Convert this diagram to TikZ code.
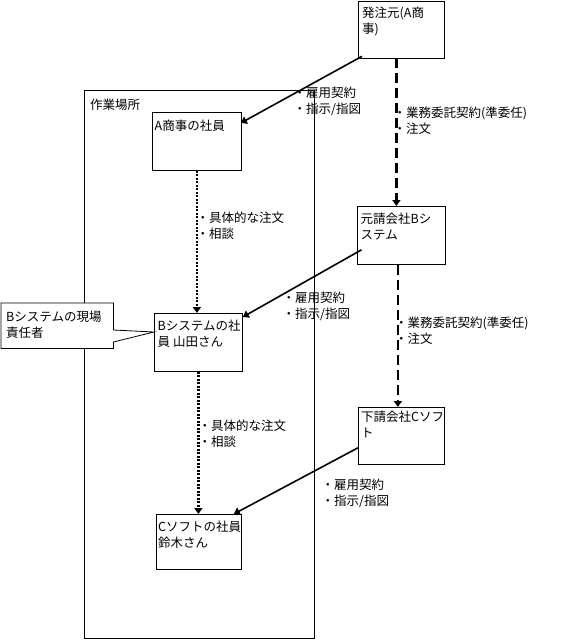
\documentclass[tikz,border=0pt]{standalone}
\usepackage{fontspec}
\setmainfont{Noto Sans CJK JP}
\usetikzlibrary{arrows.meta,calc}
\begin{document}
\begin{tikzpicture}[x=1pt,y=-1pt,
  box/.style={draw, line width=0.8pt, fill=white, anchor=north west, inner sep=0pt},
  txt/.style={anchor=north west, align=left, inner sep=0pt, font=\fontsize{12.5}{16}\selectfont},
  tipstyle/.style={-{Triangle[length=6pt,width=8pt]}},
  solidarr/.style={line width=1.6pt, tipstyle},
  dasharr/.style={line width=2.6pt, dash pattern=on 10pt off 5pt, tipstyle},
  dotarr/.style={line width=2.2pt, dash pattern=on 2pt off 1.5pt, tipstyle},
]
\useasboundingbox (0,0) rectangle (580,640);
% work site frame
\node[box, minimum width=230pt, minimum height=548pt] (site) at (84,90) {};
\node[txt] (sitet) at (90,98.5) {作業場所};
% boxes
\node[box, minimum width=86pt, minimum height=57pt] (hac) at (358,0.5) {};
\node[txt] (hact) at (362,6.5) {発注元(A商\\事)};
\node[box, minimum width=89pt, minimum height=58pt] (asha) at (152,112) {};
\node[txt] (ashat) at (154.5,119.5) {A商事の社員};
\node[box, minimum width=88pt, minimum height=58pt] (moto) at (356.5,206) {};
\node[txt] (motot) at (360.5,212.5) {元請会社Bシ\\ステム};
\node[box, minimum width=88pt, minimum height=58pt] (bsys) at (154,313) {};
\node[txt] (bsyst) at (157.5,319.5) {Bシステムの社\\員 山田さん};
\node[box, minimum width=86pt, minimum height=57pt] (shita) at (358,407) {};
\node[txt] (shitat) at (361,410.5) {下請会社Cソフ\\ト};
\node[box, minimum width=85pt, minimum height=55pt] (csoft) at (156,514) {};
\node[txt] (csoftt) at (158,520.5) {Cソフトの社員\\鈴木さん};
% callout
\node[anchor=north west, minimum width=112pt, minimum height=45pt, inner sep=0pt] (call) at (1,303) {};
\coordinate (tip) at ($(bsys.north west)+(0,19)$);
\draw[line width=0.8pt, fill=white] (call.north west) -- (call.north east) -- ($(call.north east)+(0,27)$) -- (tip) -- ($(call.north east)+(0,39)$) -- (call.south east) -- (call.south west) -- cycle;
\node[txt] (callt) at (6,310.5) {Bシステムの現場\\責任者};
% connectors
\draw[solidarr] ($(hac.south west)+(4,-2)$) -- ($(asha.north east)+(-1,11)$);
\draw[dasharr] ([xshift=-5pt]hac.south) -- ([xshift=-5pt]hac.south |- moto.north);
\draw[solidarr] ($(moto.south west)+(5,-15)$) -- ($(bsys.north east)+(0,4)$);
\draw[dasharr] ([xshift=-3pt]moto.south) -- ([xshift=-3pt]moto.south |- shita.north);
\draw[solidarr] ($(shita.south west)+(0,-17)$) -- ($(csoft.north east)+(-8,0)$);
\draw[dotarr] (asha.south) -- (asha.south |- bsys.north);
\draw[dotarr] (bsys.south) -- (bsys.south |- csoft.north);
% labels
\node[txt] (l1) at (293.5,86.5) {・雇用契約\\・指示/指図};
\node[txt] (l2) at (393.5,106.5) {・業務委託契約(準委任)\\・注文};
\node[txt] (l3) at (196.5,211.5) {・具体的な注文\\・相談};
\node[txt] (l4) at (282.5,291.5) {・雇用契約\\・指示/指図};
\node[txt] (l5) at (395,316.5) {・業務委託契約(準委任)\\・注文};
\node[txt] (l6) at (198.5,419.5) {・具体的な注文\\・相談};
\node[txt] (l7) at (321.5,478.5) {・雇用契約\\・指示/指図};
\end{tikzpicture}
\end{document}
